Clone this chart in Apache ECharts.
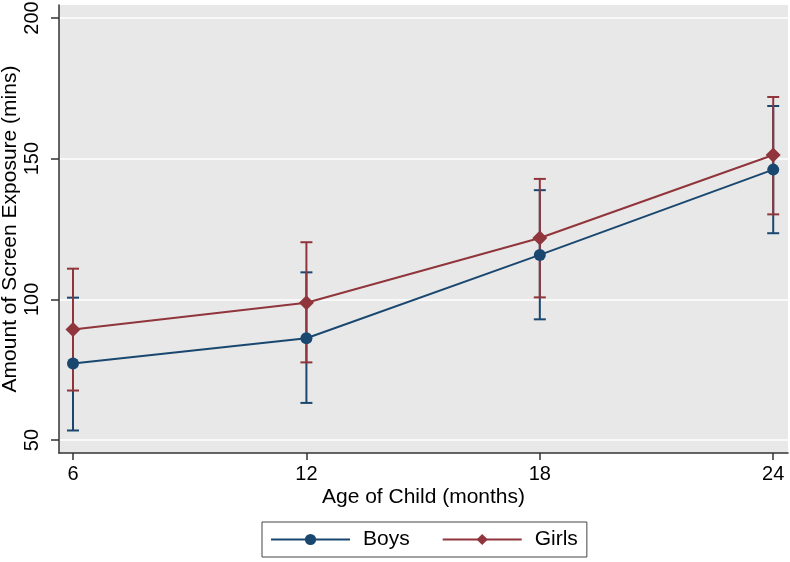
<!DOCTYPE html>
<html>
<head>
<meta charset="utf-8">
<script src="https://cdn.jsdelivr.net/npm/echarts@6/dist/echarts.min.js"></script>
<style>html,body{margin:0;padding:0;background:#fff}#c{width:790px;height:562px}</style>
</head>
<body>
<div id="c"></div>
<script>
var ages = [6, 12, 18, 24];
var xTicks = [6, 12, 18, 24];
var yTicks = [50, 100, 150, 200];
var boysMean = [77.2, 86.2, 115.8, 146.1];
var boysLow  = [53.4, 63.2, 92.9, 123.5];
var boysHigh = [100.6, 109.6, 138.8, 168.7];
var girlsMean = [89.3, 98.8, 121.8, 151.3];
var girlsLow  = [67.6, 77.6, 100.7, 130.2];
var girlsHigh = [110.9, 120.3, 142.8, 171.9];

var boysColor = '#1a476f';
var girlsColor = '#90353b';
var font = 'Liberation Sans, Arial, sans-serif';

function pairs(xs, ys) { return xs.map(function (x, i) { return [x, ys[i]]; }); }
function triples(xs, lo, hi) { return xs.map(function (x, i) { return [x, lo[i], hi[i]]; }); }

function errRender(color) {
  return function (params, api) {
    var x = api.value(0);
    var p1 = api.coord([x, api.value(1)]);
    var p2 = api.coord([x, api.value(2)]);
    var hw = 6;
    var st = { stroke: color, lineWidth: 2 };
    return {
      type: 'group',
      children: [
        { type: 'line', shape: { x1: p1[0], y1: p1[1], x2: p2[0], y2: p2[1] }, style: st },
        { type: 'line', shape: { x1: p1[0] - hw, y1: p1[1], x2: p1[0] + hw, y2: p1[1] }, style: st },
        { type: 'line', shape: { x1: p2[0] - hw, y1: p2[1], x2: p2[0] + hw, y2: p2[1] }, style: st }
      ]
    };
  };
}

var chart = echarts.init(document.getElementById('c'), null, { renderer: 'canvas' });
chart.setOption({
  animation: false,
  backgroundColor: '#ffffff',
  textStyle: { fontFamily: font },
  grid: { left: 59, right: 2, top: 5, bottom: 109, show: true, backgroundColor: '#e8e8e8', borderWidth: 0,
          containLabel: false, outerBoundsMode: 'none' },
  xAxis: {
    type: 'value', min: 5.64, max: 24.38,
    name: 'Age of Child (months)', nameLocation: 'middle', nameGap: 34, nameMoveOverlap: false,
    nameTextStyle: { fontSize: 21, color: '#000', fontFamily: font },
    axisLine: { show: true, lineStyle: { color: '#333', width: 1.5 } },
    axisTick: { show: true, length: 7, lineStyle: { color: '#333', width: 1.5 }, customValues: xTicks },
    axisLabel: { fontSize: 20, color: '#000', margin: 11, customValues: xTicks, fontFamily: font },
    splitLine: { show: false }
  },
  yAxis: {
    type: 'value', min: 45.4, max: 204.6,
    name: 'Amount of Screen Exposure (mins)', nameLocation: 'middle', nameGap: 38, nameRotate: 90, nameMoveOverlap: false,
    nameTextStyle: { fontSize: 21, color: '#000', fontFamily: font },
    axisLine: { show: true, lineStyle: { color: '#333', width: 1.5 } },
    axisTick: { show: true, length: 8, lineStyle: { color: '#333', width: 1.5 }, customValues: yTicks },
    axisLabel: { fontSize: 20, color: '#000', margin: 17, rotate: 90, customValues: yTicks, fontFamily: font },
    splitLine: { show: true, lineStyle: { color: '#ffffff', width: 1.5 } }
  },
  legend: {
    left: 262, top: 522,
    padding: [7, 9, 7, 8],
    itemGap: 32,
    itemWidth: 79, itemHeight: 14,
    borderColor: '#444', borderWidth: 1,
    textStyle: { fontSize: 21, color: '#000', fontFamily: font, padding: [0, 0, 0, 8] },
    data: ['Boys', 'Girls']
  },
  series: [
    { type: 'custom', name: 'BoysCI', renderItem: errRender(boysColor), data: triples(ages, boysLow, boysHigh), z: 2, silent: true },
    { type: 'custom', name: 'GirlsCI', renderItem: errRender(girlsColor), data: triples(ages, girlsLow, girlsHigh), z: 2, silent: true },
    { type: 'line', name: 'Boys', data: pairs(ages, boysMean), symbol: 'circle', symbolSize: 12,
      itemStyle: { color: boysColor }, lineStyle: { color: boysColor, width: 2 }, z: 3 },
    { type: 'line', name: 'Girls', data: pairs(ages, girlsMean), symbol: 'diamond', symbolSize: 15,
      itemStyle: { color: girlsColor }, lineStyle: { color: girlsColor, width: 2 }, z: 4 }
  ]
});
</script>
</body>
</html>
